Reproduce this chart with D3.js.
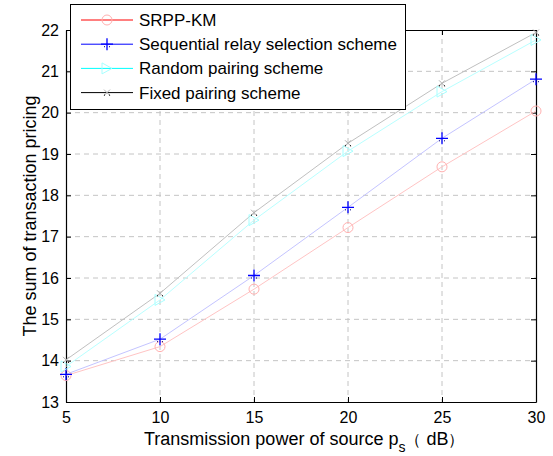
<!DOCTYPE html>
<html>
<head>
<meta charset="utf-8">
<script src="https://cdn.jsdelivr.net/npm/d3@7"></script>
<style>
  body { margin: 0; background: #fff; }
  text { font-family: "Liberation Sans", Arial, sans-serif; }
</style>
</head>
<body>
<div class="chart"></div>
<script>
// power of source (dB)
var power = [5, 10, 15, 20, 25, 30];
var srppKm     = [13.64, 14.34, 15.73, 17.22, 18.69, 20.04];
var sequential = [13.67, 14.52, 16.06, 17.71, 19.38, 20.81];
var randomPair = [13.86, 15.47, 17.40, 19.07, 20.51, 21.76];
var fixedPair  = [14.02, 15.63, 17.58, 19.26, 20.71, 21.94];
var xTicks = [5, 10, 15, 20, 25, 30];
var yTicks = [13, 14, 15, 16, 17, 18, 19, 20, 21, 22];
var seriesNames = ["SRPP-KM", "Sequential relay selection scheme", "Random pairing scheme", "Fixed pairing scheme"];

var margin = {top: 30, right: 17, bottom: 54, left: 66},
    width = 553 - margin.left - margin.right,
    height = 456 - margin.top - margin.bottom;

var svg = d3.select(".chart").append("svg")
    .attr("width", 553)
    .attr("height", 456);

var g = svg.append("g")
    .attr("transform", "translate(" + margin.left + "," + margin.top + ")");

var x = d3.scaleLinear().domain([5, 30]).range([0, width]);
var y = d3.scaleLinear().domain([13, 22]).range([height, 0]);

// grid
g.selectAll(".vgrid")
    .data(xTicks.slice(1, -1))
  .enter().append("line")
    .attr("x1", function(d){ return x(d); })
    .attr("x2", function(d){ return x(d); })
    .attr("y1", 0).attr("y2", height)
    .attr("stroke", "#c4c4c4")
    .attr("stroke-dasharray", "5,4");

g.selectAll(".hgrid")
    .data(yTicks.slice(1, -1))
  .enter().append("line")
    .attr("y1", function(d){ return y(d); })
    .attr("y2", function(d){ return y(d); })
    .attr("x1", 0).attr("x2", width)
    .attr("stroke", "#c4c4c4")
    .attr("stroke-dasharray", "5,4");

// axes, matlab style (ticks inside, box on)
var xAxis = d3.axisBottom(x).tickValues(xTicks).tickSizeInner(-5).tickSizeOuter(0).tickPadding(9);
var yAxis = d3.axisLeft(y).tickValues(yTicks).tickSizeInner(-5).tickSizeOuter(0).tickPadding(7);
var xTop = d3.axisTop(x).tickValues(xTicks).tickSizeInner(-5).tickSizeOuter(0).tickFormat("");
var yRight = d3.axisRight(y).tickValues(yTicks).tickSizeInner(-5).tickSizeOuter(0).tickFormat("");

var gx = g.append("g").attr("transform", "translate(0," + height + ")").call(xAxis);
var gy = g.append("g").call(yAxis);
g.append("g").call(xTop);
g.append("g").attr("transform", "translate(" + width + ",0)").call(yRight);

g.selectAll(".domain").attr("stroke", "#000").attr("stroke-width", 1.2);
g.selectAll(".tick line").attr("stroke", "#000");
g.selectAll(".tick text").attr("font-size", "16px").attr("fill", "#000")
    .style("font-family", "'Liberation Sans', Arial, sans-serif");
gx.selectAll(".tick text").attr("dy", "0.72em");

// series
var series = [
  {name: seriesNames[0], values: srppKm, line: "#ffc4c4", legendLine: "#ff0000", marker: "circle"},
  {name: seriesNames[1], values: sequential, line: "#c4c4ff", legendLine: "#0000ff", marker: "plus"},
  {name: seriesNames[2], values: randomPair, line: "#b8ffff", legendLine: "#00ffff", marker: "triangle"},
  {name: seriesNames[3], values: fixedPair, line: "#c0c0c0", legendLine: "#000000", marker: "cross"}
];

var line = d3.line()
    .x(function(d, i){ return x(power[i]); })
    .y(function(d){ return y(d); });

function drawMarker(sel, type, cx, cy) {
  var m = sel.append("g").attr("transform", "translate(" + cx + "," + cy + ")");
  if (type == "circle") {
    m.append("circle").attr("r", 5).attr("fill", "none").attr("stroke", "#ffb0b0");
  } else if (type == "plus") {
    m.append("path").attr("d", "M-6,0H6M0,-6V6").attr("stroke", "#0000ff").attr("stroke-width", 1.3);
    m.append("rect").attr("x", -3).attr("y", 2).attr("width", 1).attr("height", 1).attr("fill", "#000080");
    m.append("rect").attr("x", 2).attr("y", 2).attr("width", 1).attr("height", 1).attr("fill", "#000080");
  } else if (type == "triangle") {
    m.append("path").attr("d", "M-5,-5.5L5,0L-5,5.5Z").attr("fill", "none").attr("stroke", "#a8ffff");
  } else {
    m.append("path").attr("d", "M-3,-3L3,3M-3,3L3,-3").attr("stroke", "#b0b0b0");
    m.append("rect").attr("x", -3).attr("y", 2).attr("width", 1).attr("height", 1).attr("fill", "#000");
    m.append("rect").attr("x", 2).attr("y", 2).attr("width", 1).attr("height", 1).attr("fill", "#000");
  }
}

series.forEach(function(s){
  g.append("path")
      .datum(s.values)
      .attr("fill", "none")
      .attr("stroke", s.line)
      .attr("stroke-width", 1)
      .attr("d", line);
});
series.forEach(function(s){
  s.values.forEach(function(v, i){
    drawMarker(g, s.marker, x(power[i]), y(v));
  });
});

// axis labels
var xl = svg.append("text")
    .attr("x", 144).attr("y", 445)
    .attr("font-size", "18px")
    .text("Transmission power of source p");
xl.append("tspan")
    .attr("font-size", "14px").attr("dy", 7)
    .text("s");
xl.append("tspan")
    .attr("dy", -7).attr("font-size", "16px")
    .text("（");
xl.append("tspan")
    .text(" dB");
xl.append("tspan")
    .attr("font-size", "16px")
    .text("）");

svg.append("text")
    .attr("transform", "translate(36," + (margin.top + height / 2) + ") rotate(-90)")
    .attr("text-anchor", "middle")
    .attr("font-size", "18px")
    .text("The sum of transaction pricing");

// legend
var legend = svg.append("g").attr("transform", "translate(70,4)");
legend.append("rect")
    .attr("x", 0.5).attr("y", 0.5)
    .attr("width", 335).attr("height", 105)
    .attr("fill", "#fff").attr("stroke", "#000");

series.forEach(function(s, i){
  var ly = 16 + i * 24.2;
  legend.append("line")
      .attr("x1", 11).attr("x2", 63)
      .attr("y1", ly).attr("y2", ly)
      .attr("stroke", s.legendLine);
  drawMarker(legend, s.marker, 37, ly);
  legend.append("text")
      .attr("x", 69).attr("y", ly + 6)
      .attr("font-size", "17px")
      .text(s.name);
});
</script>
</body>
</html>
